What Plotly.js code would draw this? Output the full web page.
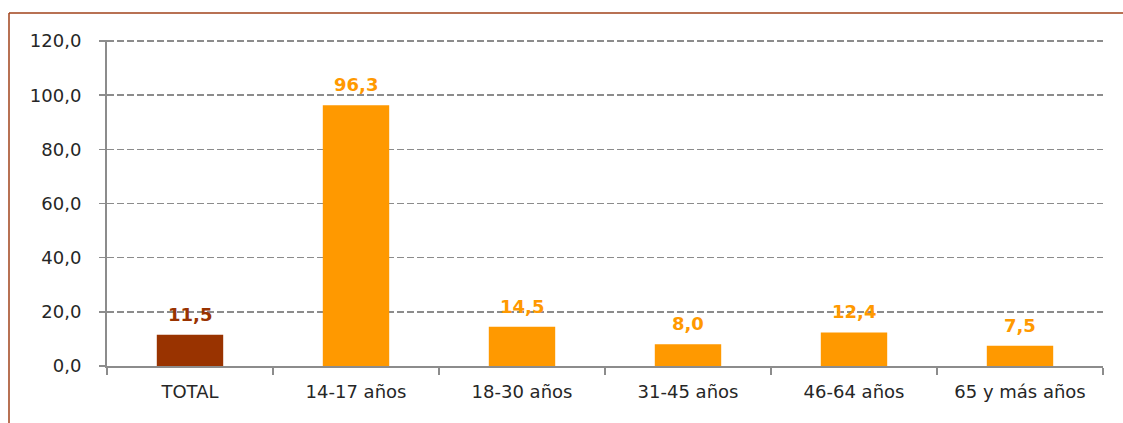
<!DOCTYPE html>
<html><head><meta charset="utf-8">
<script src="https://cdn.plot.ly/plotly-3.0.1.min.js"></script>
<style>html,body{margin:0;padding:0;background:#fff;}#chart{width:1123px;height:423px;}</style>
</head><body><div id="chart"></div>
<script>
const categories = ["TOTAL", "14-17 años", "18-30 años", "31-45 años", "46-64 años", "65 y más años"];
const values = [11.5, 96.3, 14.5, 8.0, 12.4, 7.5];
const barColors = ["#993300", "#FF9900", "#FF9900", "#FF9900", "#FF9900", "#FF9900"];
const yTicks = [0, 20, 40, 60, 80, 100, 120];

const fontFam = "'DejaVu Sans', 'Open Sans', sans-serif";
const trace = {
  type: "bar",
  x: categories,
  y: values,
  marker: {color: barColors},
  width: 0.4,
  hoverinfo: "none"
};
const annotations = categories.map((c, i) => ({
  x: c, y: values[i], xref: "x", yref: "y",
  text: values[i].toFixed(1).replace(".", ","),
  showarrow: false, yanchor: "bottom", yshift: 8,
  font: {family: fontFam, size: 18, color: barColors[i], weight: "bold"}
}));
const L = 107, R = 1103, B = 366;
const T = 40;
const px = x => (x - L) / (R - L);
const py = y => (B - y) / (B - T);
const layout = {
  width: 1123, height: 423,
  margin: {l: L, r: 1123 - R, t: T, b: 423 - B},
  paper_bgcolor: "#fff", plot_bgcolor: "#fff",
  separators: ",.",
  showlegend: false,
  font: {family: fontFam, size: 18, color: "#262626"},
  xaxis: {
    type: "category",
    showline: true, linecolor: "#8c8c8c", linewidth: 2,
    ticks: "outside", tickson: "boundaries", ticklen: 7, tickcolor: "#8c8c8c", tickwidth: 2,
    ticklabelstandoff: 8,
    showgrid: false,
    tickfont: {family: fontFam, size: 18, color: "#262626"}
  },
  yaxis: {
    range: [0, 120.4], tickvals: yTicks, tickformat: ".1f",
    showline: true, linecolor: "#8c8c8c", linewidth: 2,
    ticks: "outside", ticklen: 6, tickcolor: "#8c8c8c", tickwidth: 1.5,
    ticklabelstandoff: 14,
    showgrid: true, gridcolor: "#8c8c8c", gridwidth: 1.5, griddash: "7px,3px",
    zeroline: false,
    tickfont: {family: fontFam, size: 18, color: "#262626"}
  },
  annotations: annotations,
  shapes: [
    {type: "line", xref: "paper", yref: "paper", x0: px(9), x1: px(9), y0: py(13), y1: py(430), line: {color: "#a0421a", width: 1.5}},
    {type: "line", xref: "paper", yref: "paper", x0: px(9), x1: px(1130), y0: py(13), y1: py(13), line: {color: "#a0421a", width: 1.5}}
  ]
};
Plotly.newPlot("chart", [trace], layout, {staticPlot: true, displayModeBar: false});
</script></body></html>
